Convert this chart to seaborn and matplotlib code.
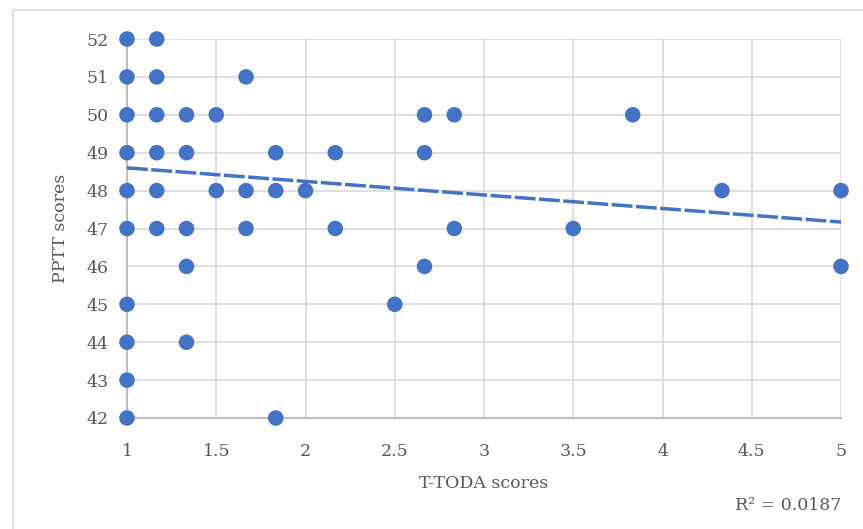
import pandas as pd
import matplotlib.pyplot as plt
import matplotlib.patches as mpatches
import seaborn as sns

# T-TODA vs PPTT scores
ttoda = [1, 1, 1, 1, 1, 1, 1, 1, 1, 1,
         7/6, 7/6, 7/6, 7/6, 7/6, 7/6,
         4/3, 4/3, 4/3, 4/3, 4/3,
         1.5, 1.5,
         5/3, 5/3, 5/3,
         11/6, 11/6, 11/6,
         2.0,
         13/6, 13/6,
         2.5,
         8/3, 8/3, 8/3,
         17/6, 17/6,
         3.5,
         23/6,
         13/3,
         5, 5]
pptt = [52, 51, 50, 49, 48, 47, 45, 44, 43, 42,
        52, 51, 50, 49, 48, 47,
        50, 49, 47, 46, 44,
        50, 48,
        51, 48, 47,
        49, 48, 42,
        48,
        49, 47,
        45,
        50, 49, 46,
        50, 47,
        47,
        50,
        48,
        48, 46]

# linear trendline end points as shown in the chart
trend_x = [1, 5]
trend_y = [48.6, 47.17]
r2_label = "R² = 0.0187"

df = pd.DataFrame({"ttoda": ttoda, "pptt": pptt})
trend = pd.DataFrame({"x": trend_x, "y": trend_y})

sns.set_style("white")
plt.rcParams["font.family"] = ["DejaVu Serif"]

text_col = "#595959"
blue = "#4472C4"
fs = 12.5

fig = plt.figure(figsize=(8.63, 5.29), dpi=100)
ax = fig.add_axes([127 / 863, 1 - 418 / 529, (841 - 127) / 863, (418 - 39) / 529])

# chart area border
fig.patches.append(mpatches.Rectangle((13 / 863, -0.05), 1.0, 1 - 10 / 529 + 0.05,
                                      transform=fig.transFigure, fill=False,
                                      edgecolor="#d9d9d9", linewidth=1.2))

sns.lineplot(data=trend, x="x", y="y", ax=ax, color=blue, linewidth=2.5,
             linestyle=(0, (6, 1)), zorder=3)
sns.scatterplot(data=df, x="ttoda", y="pptt", ax=ax, color=blue, s=125,
                edgecolor="none", linewidth=0, zorder=4, clip_on=False)

ax.set_xlim(1, 5)
ax.set_ylim(42, 52)
ax.set_xticks([1, 1.5, 2, 2.5, 3, 3.5, 4, 4.5, 5])
ax.set_xticklabels(["1", "1.5", "2", "2.5", "3", "3.5", "4", "4.5", "5"])
ax.set_yticks(range(42, 53))

ax.grid(True, color="#d9d9d9", linewidth=1.2)
ax.set_axisbelow(True)
for side in ["top", "right"]:
    ax.spines[side].set_visible(False)
for side in ["left", "bottom"]:
    ax.spines[side].set_color("#bfbfbf")
    ax.spines[side].set_linewidth(1.5)

ax.tick_params(axis="x", length=0, pad=18, labelsize=fs, labelcolor=text_col)
ax.tick_params(axis="y", length=0, pad=13, labelsize=fs, labelcolor=text_col)

ax.set_xlabel("T-TODA scores", fontsize=fs, color=text_col, labelpad=11)
ax.set_ylabel("PPTT scores", fontsize=fs, color=text_col, labelpad=13)

fig.text(841 / 863, 1 - 505 / 529, r2_label, ha="right", va="center",
         fontsize=fs, color=text_col)

plt.savefig("out.png", dpi=100)
